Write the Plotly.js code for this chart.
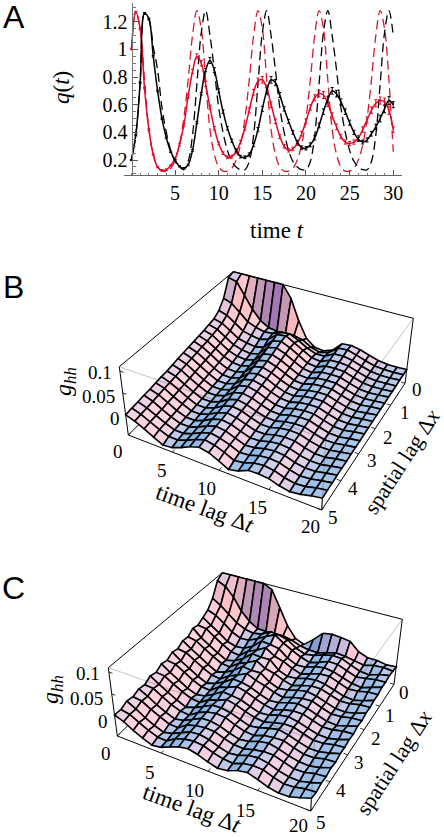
<!DOCTYPE html>
<html><head><meta charset="utf-8">
<script src="https://cdn.plot.ly/plotly-3.0.1.min.js"></script>
<style>html,body{margin:0;padding:0;background:#fff}#c{width:444px;height:837px}</style></head>
<body><div id="c"></div>
<script>
const tA=[];for(let i=0;i<=60;i++)tA.push(i/2);
const redSolid=[1,1.27,1.15,.72,.42,.24,.15,.125,.13,.16,.21,.31,.45,.66,.84,.95,.9,.75,.58,.43,.32,.25,.22,.225,.26,.33,.43,.56,.69,.77,.78,.72,.6,.48,.37,.3,.27,.28,.32,.39,.48,.58,.65,.68,.67,.61,.52,.44,.37,.33,.32,.33,.36,.42,.49,.56,.61,.63,.62,.56,.42];
const blackSolid=[.2,.38,.76,1.26,1.22,.95,.7,.5,.36,.26,.2,.155,.14,.165,.27,.47,.68,.85,.92,.85,.7,.55,.43,.34,.27,.225,.22,.24,.31,.42,.57,.7,.78,.76,.67,.57,.48,.4,.33,.29,.285,.31,.36,.45,.55,.64,.7,.68,.62,.55,.47,.4,.35,.33,.345,.39,.44,.5,.57,.63,.6];
const redDash=[1,1.27,1.15,.78,.42,.24,.15,.12,.12,.14,.2,.31,.5,.78,1.1,1.28,1.15,.78,.42,.24,.15,.12,.12,.14,.2,.31,.5,.78,1.1,1.28,1.15,.78,.42,.24,.15,.12,.12,.14,.2,.31,.5,.78,1.1,1.28,1.15,.78,.42,.24,.15,.12,.12,.14,.2,.31,.5,.78,1.1,1.28,1.15,.78,.26];
const blackDash=[.2,.38,.76,1.26,1.22,1.02,.85,.58,.4,.27,.19,.15,.13,.19,.38,.75,1.12,1.28,1.1,.85,.58,.4,.27,.19,.15,.13,.13,.19,.38,.75,1.12,1.28,1.1,.85,.58,.4,.27,.19,.15,.13,.13,.19,.38,.75,1.12,1.28,1.1,.85,.58,.4,.27,.19,.15,.13,.13,.19,.38,.75,1.12,1.28,1.1];
const errRed=[.004,.005,.005,.006,.006,.005,.005,.005,.006,.006,.007,.008,.009,.012,.014,.018,.02,.018,.016,.012,.01,.01,.01,.011,.012,.013,.014,.018,.02,.022,.024,.022,.02,.016,.014,.013,.012,.013,.014,.016,.018,.02,.022,.024,.025,.024,.022,.02,.016,.015,.014,.016,.018,.02,.022,.024,.026,.026,.028,.03,.02];
const errBlack=[.004,.005,.005,.006,.006,.006,.006,.006,.005,.005,.005,.005,.006,.006,.007,.008,.009,.012,.022,.018,.015,.013,.012,.011,.01,.01,.01,.012,.013,.015,.018,.022,.024,.022,.018,.016,.014,.013,.012,.012,.012,.014,.015,.017,.02,.022,.024,.024,.022,.02,.018,.016,.015,.014,.015,.017,.02,.024,.028,.028,.022];

const lagT=[0,1,2,3,4,5,6,7,8,9,10,11,12,13,14,15,16,17,18,19,20];
const lagX=[0,.25,.5,.75,1,1.25,1.5,1.75,2,2.25,2.5,2.75,3,3.25,3.5,3.75,4,4.25,4.5,4.75,5];
const ghhB=[
[110,105,62,42,32,29,26,24,22,20,18,16,13,11,10,8,6,5,3,2,0],
[110,100,55,36,27,23,20,17,15,13,11,9,7,5,3,2,0,-2,-4,-5,-7],
[110,70,38,22,14,10,7,5,3,1,-1,-3,-5,-7,-8,-10,-11,-13,-14,-15,-17],
[110,40,20,8,1,-3,-6,-8,-10,-12,-13,-15,-16,-18,-19,-20,-22,-23,-24,-25,-28],
[110,18,12,3,-4,-9,-13,-16,-19,-21,-23,-24,-25,-27,-28,-29,-30,-31,-32,-33,-38],
[110,6,7,0,-7,-12,-15,-18,-20,-22,-23,-24,-25,-27,-28,-29,-30,-31,-32,-33,-36],
[110,3,9,6,-2,-6,-9,-11,-13,-15,-16,-18,-19,-20,-21,-22,-23,-24,-25,-26,-28],
[80,3,18,24,20,16,12,9,6,3,1,-1,-4,-7,-9,-11,-12,-14,-15,-16,-18],
[30,4,20,27,25,21,17,14,11,8,6,4,1,-1,-3,-4,-6,-7,-8,-9,-11],
[-8,0,10,16,16,13,10,7,5,3,1,-1,-3,-5,-6,-8,-9,-10,-12,-13,-15],
[-24,-12,-2,4,4,1,-1,-3,-5,-7,-8,-10,-11,-13,-14,-15,-17,-18,-19,-21,-25],
[-26,-18,-10,-7,-8,-9,-11,-12,-13,-14,-15,-17,-18,-19,-21,-22,-24,-26,-28,-31,-36],
[-18,-12,-9,-10,-11,-12,-13,-14,-15,-16,-17,-18,-19,-20,-21,-22,-23,-24,-26,-28,-31],
[4,5,3,0,-2,-4,-6,-7,-9,-10,-11,-12,-13,-14,-15,-16,-17,-18,-19,-20,-21],
[6,7,4,1,-1,-3,-4,-5,-6,-7,-8,-9,-10,-11,-12,-13,-14,-15,-16,-17,-20],
[2,1,0,-1,-2,-3,-4,-5,-6,-7,-8,-9,-10,-11,-13,-14,-16,-17,-18,-20,-22],
[-5,-6,-7,-8,-9,-10,-11,-12,-13,-14,-15,-16,-17,-18,-20,-21,-23,-24,-25,-27,-29],
[-11,-12,-13,-14,-15,-16,-17,-18,-19,-20,-21,-22,-23,-24,-25,-26,-27,-28,-30,-31,-33],
[-14,-14,-15,-16,-17,-18,-19,-20,-21,-21,-22,-23,-24,-24,-25,-26,-27,-27,-28,-29,-30],
[-14,-14,-15,-15,-16,-16,-17,-17,-18,-18,-19,-19,-20,-20,-21,-21,-22,-22,-23,-23,-24],
[-13,-13,-13,-14,-14,-14,-15,-15,-15,-16,-16,-16,-17,-17,-17,-18,-18,-18,-19,-19,-20]];
const ghhC=[
[112,100,65,46,38,30,34,24,26,18,22,14,18,10,14,6,9,4,7,1,2],
[112,90,52,38,24,27,16,20,12,15,7,11,4,8,1,4,-1,1,-4,-3,-6],
[112,68,36,24,11,13,3,7,0,3,-5,-1,-8,-4,-11,-8,-14,-11,-17,-14,-18],
[112,38,20,8,-4,0,-9,-5,-13,-9,-17,-13,-20,-15,-22,-19,-24,-21,-27,-24,-28],
[112,18,10,-1,-10,-11,-20,-16,-24,-19,-26,-22,-28,-24,-31,-27,-32,-30,-35,-32,-36],
[112,6,6,0,-8,-14,-15,-18,-18,-22,-20,-24,-24,-26,-25,-29,-28,-31,-30,-33,-33],
[100,5,10,10,3,3,-3,-3,-7,-8,-10,-9,-13,-13,-15,-16,-18,-17,-21,-20,-24],
[60,6,22,22,22,12,15,6,9,1,4,-3,0,-7,-5,-7,-8,-11,-11,-13,-16],
[20,6,20,32,20,24,13,17,6,11,3,6,-2,2,-4,-3,-7,-8,-9,-10,-12],
[-6,2,14,18,16,10,14,5,7,2,-2,1,-5,-3,-8,-5,-11,-9,-13,-12,-17],
[-14,-6,0,7,0,4,-5,0,-8,-4,-11,-8,-13,-11,-16,-14,-19,-17,-21,-20,-25],
[4,-10,-8,-3,-10,-6,-13,-9,-16,-12,-18,-15,-20,-17,-23,-21,-25,-23,-27,-25,-31],
[26,-10,-5,-10,-9,-13,-11,-15,-13,-17,-16,-19,-18,-20,-19,-23,-22,-24,-24,-27,-28],
[30,-4,3,-3,-1,-6,-4,-8,-6,-10,-9,-12,-10,-14,-13,-15,-14,-18,-16,-19,-19],
[28,2,8,6,3,1,-1,-2,-2,-5,-4,-7,-7,-9,-8,-12,-10,-14,-13,-15,-15],
[25,0,7,5,0,2,-4,-2,-6,-4,-8,-7,-11,-9,-13,-11,-15,-14,-17,-16,-22],
[6,-4,-2,-3,-7,-6,-11,-9,-13,-12,-15,-14,-18,-16,-20,-19,-22,-21,-25,-24,-30],
[-2,-8,-10,-11,-14,-14,-18,-16,-20,-19,-22,-21,-24,-23,-26,-25,-27,-28,-30,-30,-34],
[-2,-2,-12,-8,-17,-12,-20,-15,-21,-18,-24,-20,-25,-22,-26,-25,-28,-27,-31,-28,-33],
[-6,0,-4,-4,-9,-7,-14,-10,-16,-13,-18,-15,-20,-17,-21,-19,-23,-21,-25,-23,-26],
[-4,-2,0,-3,-2,-6,-6,-9,-8,-12,-10,-14,-12,-15,-14,-18,-15,-19,-17,-21,-18]];

const ticksA=['5','10','15','20','25','30'];
const ticksQ=['0.2','0.4','0.6','0.8','1','1.2'];
const ticksZ=['0.1','0.05','0'];
const ticksLagT=['0','5','10','15','20'];
const ticksLagX=['5','4','3','2','1','0'];

const W=444,H=837;
const zMin=-46,zMax=110;
const floorQuad=[[232.3,331.7],[405,383.3],[321.7,510],[128.3,435]];
const topQuad=[[233.3,271.7],[413.3,318.3],[325.7,439],[119.3,366.7]];
function homography(q){
  const [x0,y0]=q[0],[x1,y1]=q[1],[x2,y2]=q[2],[x3,y3]=q[3];
  const dx1=x1-x2,dx2=x3-x2,sx=x0-x1+x2-x3,dy1=y1-y2,dy2=y3-y2,sy=y0-y1+y2-y3;
  const det=dx1*dy2-dx2*dy1,g=(sx*dy2-dx2*sy)/det,h=(dx1*sy-sx*dy1)/det;
  const a=x1-x0+g*x1,b=x3-x0+h*x3,d=y1-y0+g*y1,e=y3-y0+h*y3;
  return (u,v)=>{const w=g*u+h*v+1;return [(a*u+b*v+x0)/w,(d*u+e*v+y0)/w];};
}
const hF=homography(floorQuad),hT=homography(topQuad);
function project(t,x,z,dx,dy){
  const u=t/20,v=x/5,s=(Math.min(z,zMax)-zMin)/(zMax-zMin);
  const f=hF(u,v),p=hT(u,v);
  return [f[0]+(p[0]-f[0])*s+dx,f[1]+(p[1]-f[1])*s+dy];
}
const alpha=23*Math.PI/180,elev=50*Math.PI/180;
const R=[-Math.sin(alpha),Math.cos(alpha),0];
const V=[Math.cos(elev)*Math.cos(alpha),Math.cos(elev)*Math.sin(alpha),Math.sin(elev)];
const U=[-Math.sin(elev)*Math.cos(alpha),-Math.sin(elev)*Math.sin(alpha),Math.cos(elev)];
const dot=(a,b)=>a[0]*b[0]+a[1]*b[1]+a[2]*b[2];
function cellColor(m,i,j){
  const c=v=>Math.min(v,zMax);
  const zs=.4/(zMax-zMin);
  const dT=((c(m[i+1][j])+c(m[i+1][j+1]))-(c(m[i][j])+c(m[i][j+1])))/2*zs*20;
  const dX=((c(m[i][j+1])+c(m[i+1][j+1]))-(c(m[i][j])+c(m[i+1][j])))/2*zs*10;
  const n=[-dX,-dT,1],l=Math.hypot(n[0],n[1],n[2]);
  const r=dot(n,R)/l,up=dot(n,U)/l,v=dot(n,V)/l;
  const lr=Math.max(0,(r+v)/Math.SQRT2),lg=Math.max(0,(r+up+v)/Math.sqrt(3)),lb=Math.max(0,(up+v)/Math.SQRT2);
  const ch=x=>Math.round(255*Math.min(1,x));
  return 'rgb('+ch(.5+.6*Math.pow(lr,1.4))+','+ch(.4+.44*Math.sqrt(lg))+','+ch(.62+.3*lb)+')';
}
function lineTrace(xs,ys,color,width){return {type:'scatter',mode:'lines',x:xs,y:ys,xaxis:'x2',yaxis:'y2',line:{color:color,width:width},hoverinfo:'skip',showlegend:false};}
function edge(a,b,dx,dy,color,width){
  const p=project(a[0],a[1],a[2],dx,dy),q=project(b[0],b[1],b[2],dx,dy);
  return lineTrace([p[0],q[0]],[p[1],q[1]],color,width);
}
const tickT=[0,5,10,15,20],tickX=[0,1,2,3,4,5],tickZ=[0,50,100];
function panel(m,dx,dy){
  const out=[],K='#000',LW=1;
  [[[0,5,zMax],[0,0,zMax]],[[0,0,zMax],[20,0,zMax]],[[0,5,zMin],[0,5,zMax]],[[20,0,zMin],[20,0,zMax]],
   [[0,5,zMin],[0,0,zMin]],[[0,5,zMin],[20,5,zMin]],[[20,5,zMin],[20,0,zMin]],[[20,5,zMin],[20,5,zMax]]]
   .forEach(e=>out.push(edge(e[0],e[1],dx,dy,K,LW)));
  tickT.forEach(t=>out.push(edge([t,5,zMin],[t,4.9,zMin],dx,dy,K,.8)));
  tickX.forEach(x=>out.push(edge([20,x,zMin],[19.6,x,zMin],dx,dy,K,.8)));
  tickZ.forEach(z=>out.push(edge([0,5,z],[.4,5,z],dx,dy,K,.8)));
  for(let i=0;i<lagT.length-1;i++)for(let j=0;j<lagX.length-1;j++){
    const c=[[i,j],[i+1,j],[i+1,j+1],[i,j+1],[i,j]].map(k=>project(lagT[k[0]],lagX[k[1]],m[k[0]][k[1]],dx,dy));
    out.push({type:'scatter',mode:'lines',x:c.map(p=>p[0]),y:c.map(p=>p[1]),xaxis:'x2',yaxis:'y2',fill:'toself',
      fillcolor:cellColor(m,i,j),line:{color:'#000',width:1.6},hoverinfo:'skip',showlegend:false});
  }
  [[[0,5,zMax],[20,5,zMax]],[[20,5,zMax],[20,0,zMax]],[[20,5,zMin],[20,5,zMax]]]
   .forEach(e=>out.push(edge(e[0],e[1],dx,dy,'rgba(40,40,40,.35)',.8)));
  return out;
}
const traces=[
 {x:tA,y:redDash,mode:'lines',line:{color:'#d8182e',width:1.3,dash:'9px,5px',shape:'spline'},xaxis:'x',yaxis:'y',showlegend:false},
 {x:tA,y:blackDash,mode:'lines',line:{color:'#000',width:1.3,dash:'9px,5px',shape:'spline'},xaxis:'x',yaxis:'y',showlegend:false},
 {x:tA,y:redSolid,mode:'lines',line:{color:'#e00a28',width:1.5,shape:'spline'},error_y:{type:'data',array:errRed,color:'#e00a28',thickness:1,width:1.5},xaxis:'x',yaxis:'y',showlegend:false},
 {x:tA,y:blackSolid,mode:'lines',line:{color:'#000',width:1.5,shape:'spline'},error_y:{type:'data',array:errBlack,color:'#000',thickness:1,width:1.5},xaxis:'x',yaxis:'y',showlegend:false},
 ...panel(ghhB,0,0),...panel(ghhC,-11,301)
];
const serif='"Liberation Serif",serif';
const ann=[];
function label(x,y,text,size,angle,family){ann.push({xref:'paper',yref:'paper',x:x/W,y:1-y/H,text:text,showarrow:false,xanchor:'center',yanchor:'middle',textangle:angle||0,font:{family:family||serif,size:size,color:'#000'}});}
label(14,17,'A',32,0,'"Liberation Sans",sans-serif');
label(13,287,'B',32,0,'"Liberation Sans",sans-serif');
label(13,588,'C',32,0,'"Liberation Sans",sans-serif');
label(277,230,'time <i>t</i>',23);
label(62,87,'<i>q</i>(<i>t</i>)',23,-90);
const TS=19;
[[100,372],[98,396],[115,418]].forEach((p,i)=>label(p[0],p[1],ticksZ[i],TS));
[[118,452],[162,470],[206,488],[257,507],[310,526]].forEach((p,i)=>label(p[0],p[1],ticksLagT[i],TS));
[[333,517],[353,488],[372,460],[388,437],[405,412],[417,390]].forEach((p,i)=>label(p[0],p[1],ticksLagX[i],TS));
label(65,382,'<i>g<sub>hh</sub></i>',24,-90);
label(205,508,'time lag Δ<i>t</i>',23,20);
label(401,462,'spatial lag Δ<i>x</i>',22,-57);
[[88,673],[86,698],[103,721]].forEach((p,i)=>label(p[0],p[1],ticksZ[i],TS));
[[106,753],[150,772],[194,790],[245,810],[298,825]].forEach((p,i)=>label(p[0],p[1],ticksLagT[i],TS));
[[321,822],[341,790],[359,762],[376,738],[390,715],[404,692]].forEach((p,i)=>label(p[0],p[1],ticksLagX[i],TS));
label(52,690,'<i>g<sub>hh</sub></i>',24,-90);
label(192,808,'time lag Δ<i>t</i>',23,20);
label(393,763,'spatial lag Δ<i>x</i>',22,-57);

const layout={width:W,height:H,margin:{l:0,r:0,t:0,b:0},paper_bgcolor:'#fff',plot_bgcolor:'rgba(0,0,0,0)',showlegend:false,
 xaxis:{domain:[124/W,402/W],range:[-.85,31],tickvals:[5,10,15,20,25,30],ticktext:ticksA,tickfont:{family:serif,size:20,color:'#000'},
   ticks:'inside',ticklen:5,tickcolor:'#555',minor:{ticks:'inside',ticklen:2.5,dtick:1,tickcolor:'#777'},showgrid:false,zeroline:false,showline:true,linecolor:'#666',linewidth:1,anchor:'y'},
 yaxis:{domain:[1-175/H,1-3/H],range:[.092,1.335],tickvals:[.2,.4,.6,.8,1,1.2],ticktext:ticksQ,tickfont:{family:serif,size:20,color:'#000'},
   ticks:'inside',ticklen:5,tickcolor:'#555',minor:{ticks:'inside',ticklen:2.5,dtick:.05,tickcolor:'#777'},showgrid:false,zeroline:false,showline:true,linecolor:'#777',linewidth:1.5,
   anchor:'free',position:131.6/W},
 xaxis2:{domain:[0,1],range:[0,W],visible:false,anchor:'y2',fixedrange:true},
 yaxis2:{domain:[0,1],range:[H,0],visible:false,anchor:'x2',fixedrange:true},
 annotations:ann};
Plotly.newPlot('c',traces,layout,{staticPlot:true,displayModeBar:false});
</script></body></html>
